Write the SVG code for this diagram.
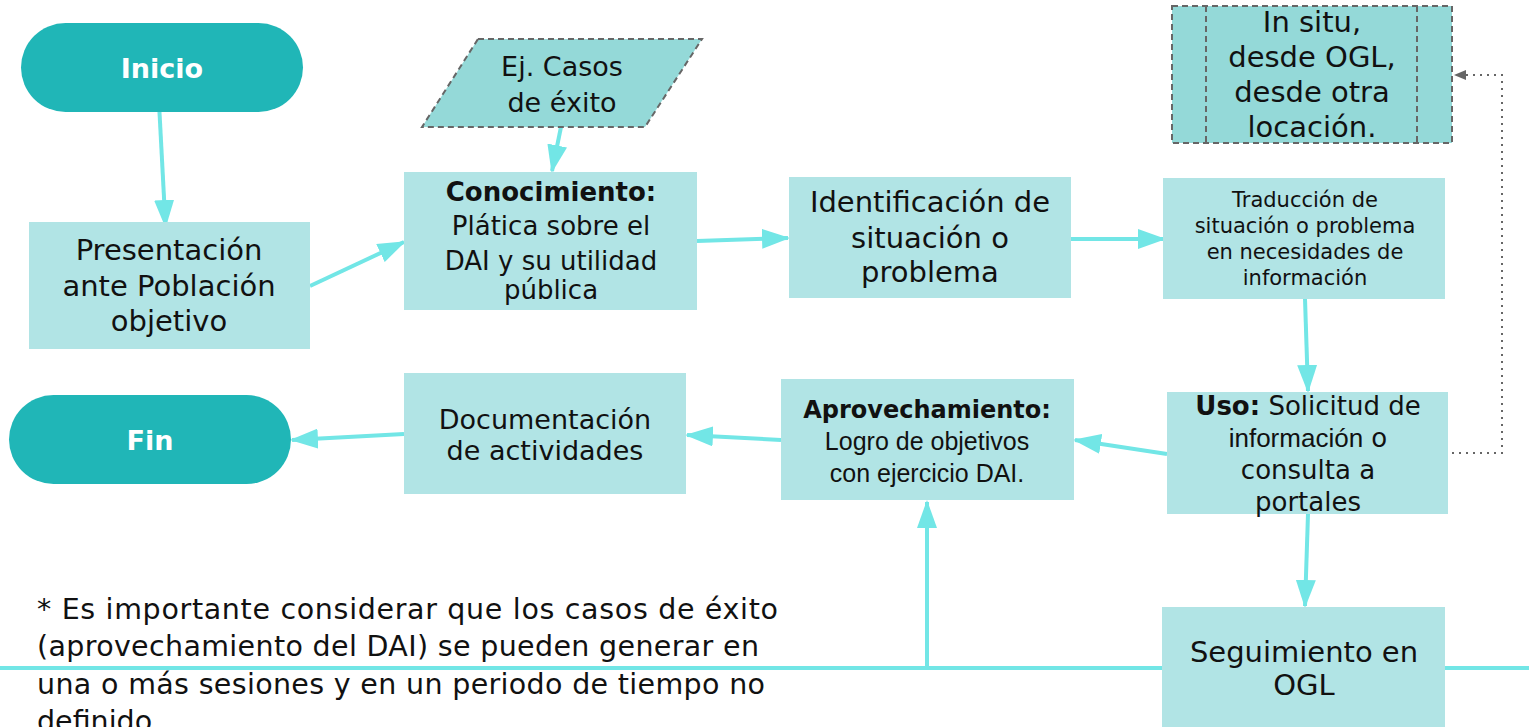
<svg xmlns="http://www.w3.org/2000/svg" width="1529" height="727" viewBox="0 0 1529 727">
<defs>
<style>
.box{fill:#b1e4e5}
.term{fill:#20b6b7}
.dash{fill:#94d9d8;stroke:#666;stroke-width:2;stroke-dasharray:6 4}
.t{font-family:"DejaVu Sans",sans-serif;fill:#111;text-anchor:middle}
.b{font-weight:bold}
.w{fill:#fff;font-weight:bold}
.a{font-family:"Liberation Sans",Arial,sans-serif}
.c{stroke:#72e6e6;stroke-width:4;fill:none}
.d{stroke:#666;stroke-width:2;fill:none;stroke-dasharray:2 5}
</style>
<marker id="ah" markerWidth="7" markerHeight="5" refX="6.5" refY="2.5" orient="auto" markerUnits="strokeWidth">
<path d="M0,0 L7,2.5 L0,5 Z" fill="#72e6e6"/>
</marker>
<marker id="ag" markerWidth="6" markerHeight="6" refX="5.5" refY="3" orient="auto" markerUnits="strokeWidth">
<path d="M0,0.5 L6,3 L0,5.5 Z" fill="#666"/>
</marker>
</defs>
<rect width="1529" height="727" fill="#fff"/>

<g id="connectors">
<line class="c" x1="0" y1="668" x2="1529" y2="668"/>
<line class="c" x1="159" y1="103" x2="165.5" y2="226" marker-end="url(#ah)"/>
<line class="c" x1="310" y1="286" x2="404" y2="242" marker-end="url(#ah)"/>
<line class="c" x1="561" y1="127" x2="552" y2="171" marker-end="url(#ah)"/>
<line class="c" x1="697" y1="241" x2="788" y2="238" marker-end="url(#ah)"/>
<line class="c" x1="1071" y1="239" x2="1164" y2="239" marker-end="url(#ah)"/>
<line class="c" x1="1305" y1="299" x2="1308" y2="391" marker-end="url(#ah)"/>
<line class="c" x1="1167" y1="454" x2="1075" y2="440" marker-end="url(#ah)"/>
<line class="c" x1="781" y1="440" x2="687" y2="435" marker-end="url(#ah)"/>
<line class="c" x1="404" y1="434" x2="292" y2="440" marker-end="url(#ah)"/>
<line class="c" x1="1308" y1="514" x2="1305" y2="606" marker-end="url(#ah)"/>
<line class="c" x1="927" y1="668" x2="927" y2="502" marker-end="url(#ah)"/>
<polyline class="d" points="1452,453 1502,453 1502,75 1455,75" marker-end="url(#ag)"/>
</g>

<g id="inicio">
<rect class="term" x="21" y="23" width="282" height="89" rx="44.5"/>
<text class="t w" x="162" y="78" font-size="27">Inicio</text>
</g>

<g id="presentacion">
<rect class="box" x="29" y="222" width="281" height="127"/>
<text class="t" font-size="29"><tspan x="169" y="260">Presentación</tspan><tspan x="169" y="296">ante Población</tspan><tspan x="169" y="331">objetivo</tspan></text>
</g>

<g id="casos">
<polygon class="dash" points="478,39 702,39 645,127 422,127"/>
<text class="t" font-size="27"><tspan x="562" y="76">Ej. Casos</tspan><tspan x="562" y="112">de éxito</tspan></text>
</g>

<g id="conocimiento">
<rect class="box" x="404" y="172" width="293" height="138"/>
<text class="t" font-size="26"><tspan class="b" x="551" y="201">Conocimiento:</tspan><tspan x="551" y="235">Plática sobre el</tspan><tspan x="551" y="270">DAI y su utilidad</tspan><tspan x="551" y="299">pública</tspan></text>
</g>

<g id="identificacion">
<rect class="box" x="789" y="177" width="282" height="121"/>
<text class="t" font-size="29"><tspan x="930" y="212">Identificación de</tspan><tspan x="930" y="248">situación o</tspan><tspan x="930" y="282">problema</tspan></text>
</g>

<g id="traduccion">
<rect class="box" x="1163" y="178" width="282" height="121"/>
<text class="t" font-size="21"><tspan x="1305" y="207">Traducción de</tspan><tspan x="1305" y="233">situación o problema</tspan><tspan x="1305" y="259">en necesidades de</tspan><tspan x="1305" y="285">información</tspan></text>
</g>

<g id="insitu">
<rect class="dash" x="1172" y="6" width="280" height="137"/>
<line x1="1206" y1="6" x2="1206" y2="143" stroke="#666" stroke-width="2" stroke-dasharray="6 4"/>
<line x1="1417" y1="6" x2="1417" y2="143" stroke="#666" stroke-width="2" stroke-dasharray="6 4"/>
<text class="t" font-size="29"><tspan x="1312" y="32">In situ,</tspan><tspan x="1312" y="67">desde OGL,</tspan><tspan x="1312" y="102">desde otra</tspan><tspan x="1312" y="137">locación.</tspan></text>
</g>

<g id="uso">
<rect class="box" x="1167" y="392" width="281" height="122"/>
<text class="t" font-size="26"><tspan x="1308" y="415"><tspan class="b">Uso:</tspan> Solicitud de</tspan><tspan x="1308" y="447"><tspan class="a">información</tspan> o</tspan><tspan x="1308" y="479">consulta a</tspan><tspan x="1308" y="511">portales</tspan></text>
</g>

<g id="aprovechamiento">
<rect class="box" x="781" y="379" width="293" height="121"/>
<text class="t" font-size="24"><tspan class="b" x="927" y="418">Aprovechamiento:</tspan></text>
<text class="t a" font-size="25"><tspan x="927" y="450">Logro de objetivos</tspan><tspan x="927" y="482">con ejercicio DAI.</tspan></text>
</g>

<g id="documentacion">
<rect class="box" x="404" y="373" width="282" height="121"/>
<text class="t" font-size="27"><tspan x="545" y="429">Documentación</tspan><tspan x="545" y="460">de actividades</tspan></text>
</g>

<g id="fin">
<rect class="term" x="9" y="395" width="282" height="89" rx="44.5"/>
<text class="t w" x="150" y="450" font-size="27">Fin</text>
</g>

<g id="seguimiento">
<rect class="box" x="1162" y="607" width="283" height="130"/>
<text class="t" font-size="29"><tspan x="1304" y="662">Seguimiento en</tspan><tspan x="1304" y="695">OGL</tspan></text>
</g>

<g id="nota">
<text font-family="DejaVu Sans, sans-serif" font-size="28.5" fill="#111">
<tspan x="37" y="619" textLength="741" lengthAdjust="spacing">* Es importante considerar que los casos de éxito</tspan>
<tspan x="37" y="656" textLength="722" lengthAdjust="spacing">(aprovechamiento del DAI) se pueden generar en</tspan>
<tspan x="37" y="694" textLength="728" lengthAdjust="spacing">una o más sesiones y en un periodo de tiempo no</tspan>
<tspan x="37" y="731">definido</tspan>
</text>
</g>
</svg>
